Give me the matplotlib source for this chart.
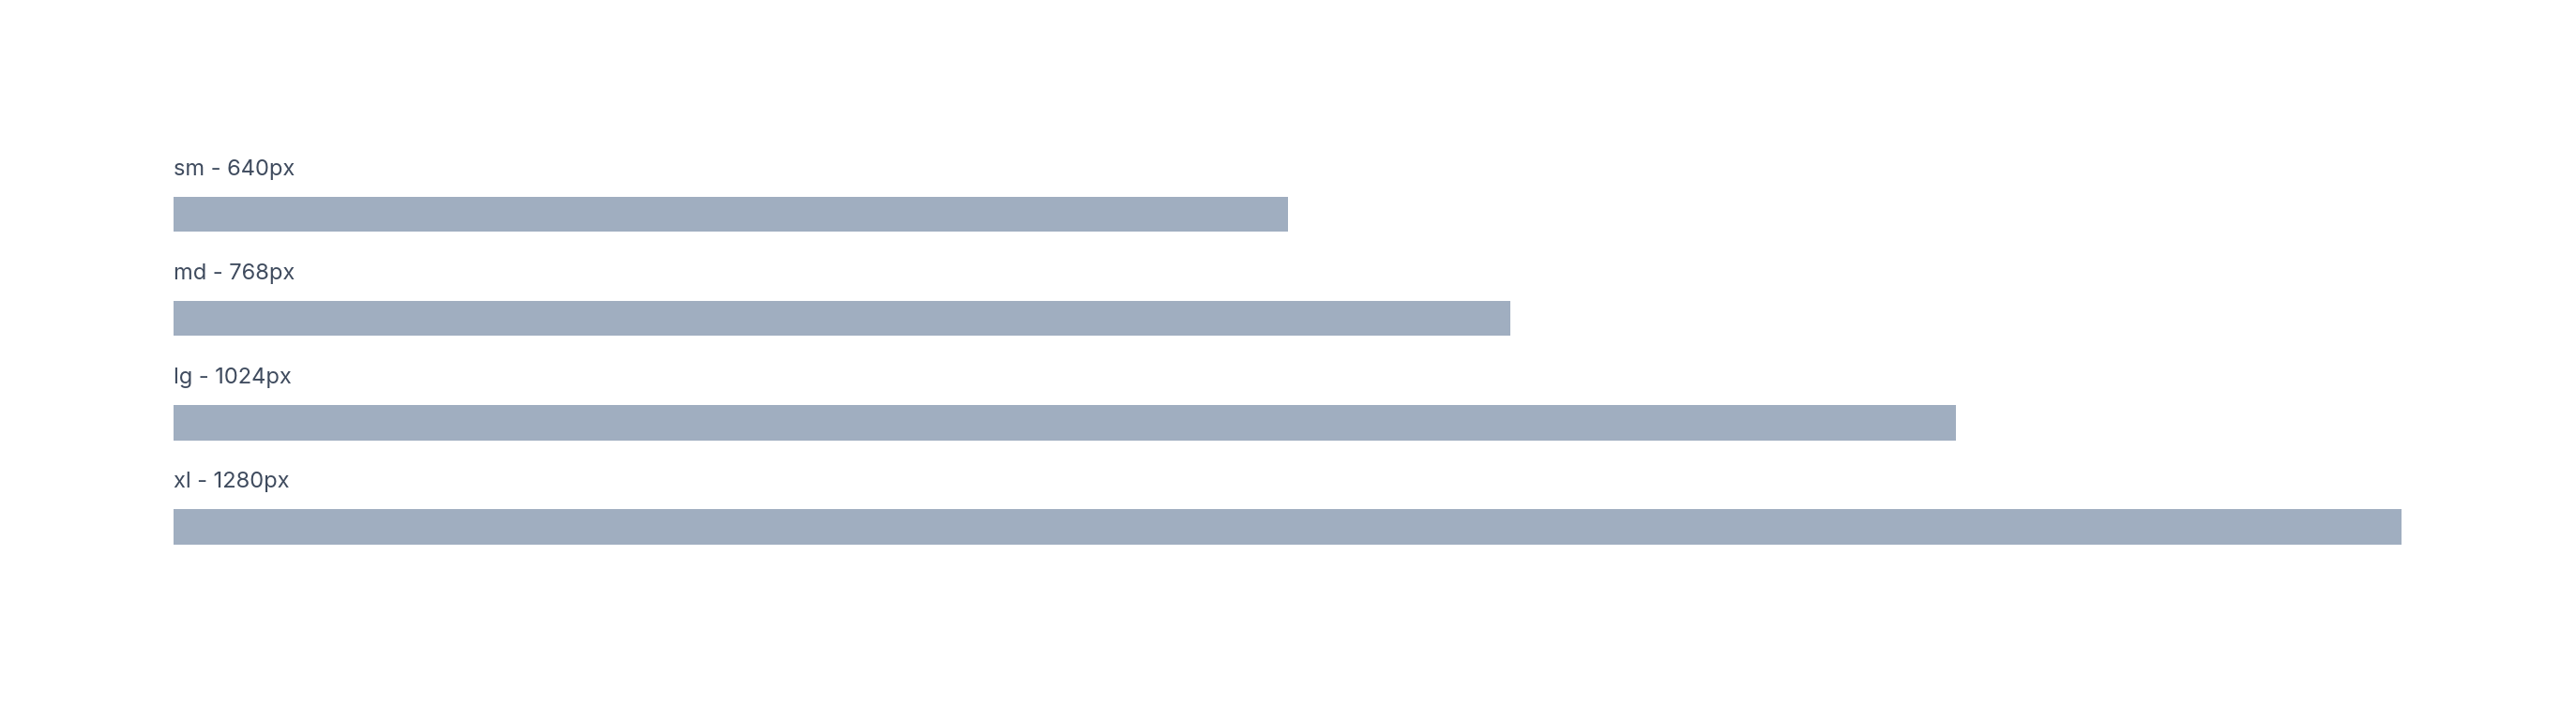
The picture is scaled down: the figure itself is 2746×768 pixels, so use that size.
import matplotlib
matplotlib.use("Agg")
import matplotlib.pyplot as plt

# Breakpoint data
names = ['sm', 'md', 'lg', 'xl']
widths = [640, 768, 1024, 1280]
labels = [f"{n} - {w}px" for n, w in zip(names, widths)]

bar_color = '#A0AEC0'
text_color = '#3F4B5E'

plt.rcParams['font.family'] = ['Inter', 'DejaVu Sans']

fig = plt.figure(figsize=(27.46, 7.68), dpi=100)
ax = fig.add_axes([185.3 / 2746, 0, 2375 / 2746, 1])

ypos = list(range(len(widths)))
bar_h = 0.337
ax.barh(ypos, widths, height=bar_h, left=0, color=bar_color, edgecolor='none')

for y, lab in zip(ypos, labels):
    ax.text(0, y - bar_h / 2 - 0.21, lab, ha='left', va='baseline',
            fontsize=17, color=text_color)

ax.set_xlim(0, 1280)
ax.set_ylim(4.855, -2.058)
ax.axis('off')

fig.savefig('out.png', dpi=100, facecolor='white')
